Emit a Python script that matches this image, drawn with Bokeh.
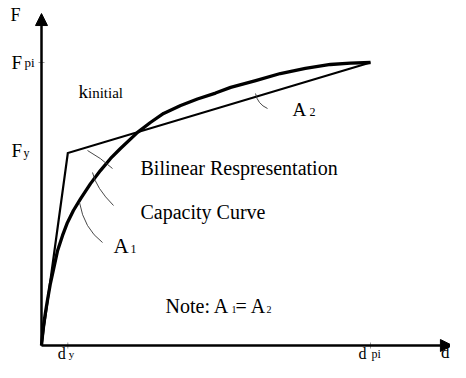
from bokeh.plotting import figure
from bokeh.models import Range1d, Arrow, NormalHead
from bokeh.core.properties import value
from bokeh.embed import file_html
from bokeh.resources import INLINE

# ---- data (normalised: d_pi = 1, F_pi = 1) ----
cap_d = [0.0, 0.003, 0.006, 0.012, 0.018, 0.027, 0.037, 0.049, 0.064, 0.079,
         0.097, 0.119, 0.149, 0.179, 0.210, 0.240, 0.292, 0.331, 0.371, 0.423,
         0.474, 0.529, 0.575, 0.651, 0.726, 0.802, 0.878, 0.939, 1.0]
cap_F = [0.0, 0.035, 0.071, 0.117, 0.159, 0.219, 0.272, 0.336, 0.389, 0.435,
         0.477, 0.519, 0.572, 0.618, 0.661, 0.696, 0.753, 0.788, 0.820, 0.848,
         0.871, 0.892, 0.912, 0.936, 0.961, 0.979, 0.993, 0.998, 1.0]
d_y = 0.08
d_pi = 1.0
F_y = 0.68
F_pi = 1.0
bil_d = [0.0, d_y, d_pi]
bil_F = [0.0, F_y, F_pi]
axis_end_d = 1.249
axis_end_F = 1.173

# ---- layout helpers (reference-pixel -> data) ----
PX0, PY0, SX, SY = 41.0, 345.0, 329.0, 283.0
def X(px):
    return (px - PX0) / SX
def Y(py):
    return (PY0 - py) / SY

W, H = 450, 362
p = figure(width=W, height=H,
           x_range=Range1d(X(0), X(W)), y_range=Range1d(Y(H), Y(0)),
           output_backend="svg", toolbar_location=None, min_border=0,
           x_axis_location=None, y_axis_location=None,
           outline_line_color=None, background_fill_color="white",
           border_fill_color="white")
p.grid.visible = False

FONT = value("Liberation Serif")

# axes with arrows
for xs, ys, xe, ye in [(0, 0, axis_end_d, 0), (0, 0, 0, axis_end_F)]:
    p.add_layout(Arrow(end=NormalHead(size=12, fill_color="black", line_color="black", line_width=1),
                       x_start=xs, y_start=ys, x_end=xe, y_end=ye,
                       line_color="black", line_width=2.5))

# faint ticks
p.scatter(x=[d_y, d_pi], y=[0, 0], marker="dash", angle=1.5708, size=6,
          line_color="#999999", line_width=1)
p.scatter(x=[0], y=[F_pi], marker="dash", size=6, line_color="#999999", line_width=1)

# bilinear representation
p.line(bil_d, bil_F, line_color="black", line_width=2.2, line_join="miter")
# capacity curve
p.line(cap_d, cap_F, line_color="black", line_width=3.3, line_join="round")

# leader lines (quadratic curves)
leaders = [((87, 150), (112, 168), (100, 157)),
           ((92, 172), (113, 205), (95.5, 187.5)),
           ((79, 202), (102, 242), (83.5, 228)),
           ((255, 93), (267, 108), (257, 103.5))]
p.quadratic(x0=[X(a[0]) for a, b, c in leaders], y0=[Y(a[1]) for a, b, c in leaders],
            x1=[X(b[0]) for a, b, c in leaders], y1=[Y(b[1]) for a, b, c in leaders],
            cx=[X(c[0]) for a, b, c in leaders], cy=[Y(c[1]) for a, b, c in leaders],
            line_color="#333333", line_width=0.9)

BASE_SHIFT = 0.33  # bokeh draws the alphabetic baseline about a third of the size lower

def txt(x, y, s, size, xo=0, yo=0, align="left"):
    p.text(x=[x], y=[y], text=[s], text_font=FONT, text_font_size=f"{size}px",
           text_color="black", text_baseline="alphabetic", text_align=align,
           x_offset=xo, y_offset=yo - BASE_SHIFT * size)

# axis titles
txt(X(10), Y(20), "F", 18)
txt(X(449), Y(358), "d", 17, align="right")

# tick labels
txt(0, F_pi, "F", 19, xo=-30, yo=6)
txt(0, F_pi, "pi", 13, xo=-17, yo=4)
txt(0, F_y, "F", 19, xo=-30, yo=4)
txt(0, F_y, "y", 12, xo=-18, yo=4)
txt(d_y, 0, "d", 16, xo=-10, yo=13)
txt(d_y, 0, "y", 11, xo=1, yo=12.5)
txt(d_pi, 0, "d", 16, xo=-12, yo=13)
txt(d_pi, 0, "pi", 12, xo=1, yo=12.5)

# annotations
txt(X(78), Y(97), "k", 19)
txt(X(87.5), Y(97), "initial", 15)
txt(X(140), Y(174), "Bilinear Respresentation", 20)
txt(X(140), Y(218), "Capacity Curve", 20)
txt(X(113), Y(252), "A", 21)
txt(X(130), Y(252), "1", 12)
txt(X(292), Y(115), "A", 19)
txt(X(309), Y(115), "2", 12)
txt(X(165), Y(312), "Note: A", 20)
txt(X(231), Y(312), "1", 10)
txt(X(235), Y(312), "= A", 20)
txt(X(266), Y(312), "2", 10)

open("out.html", "w").write(file_html(p, INLINE))
